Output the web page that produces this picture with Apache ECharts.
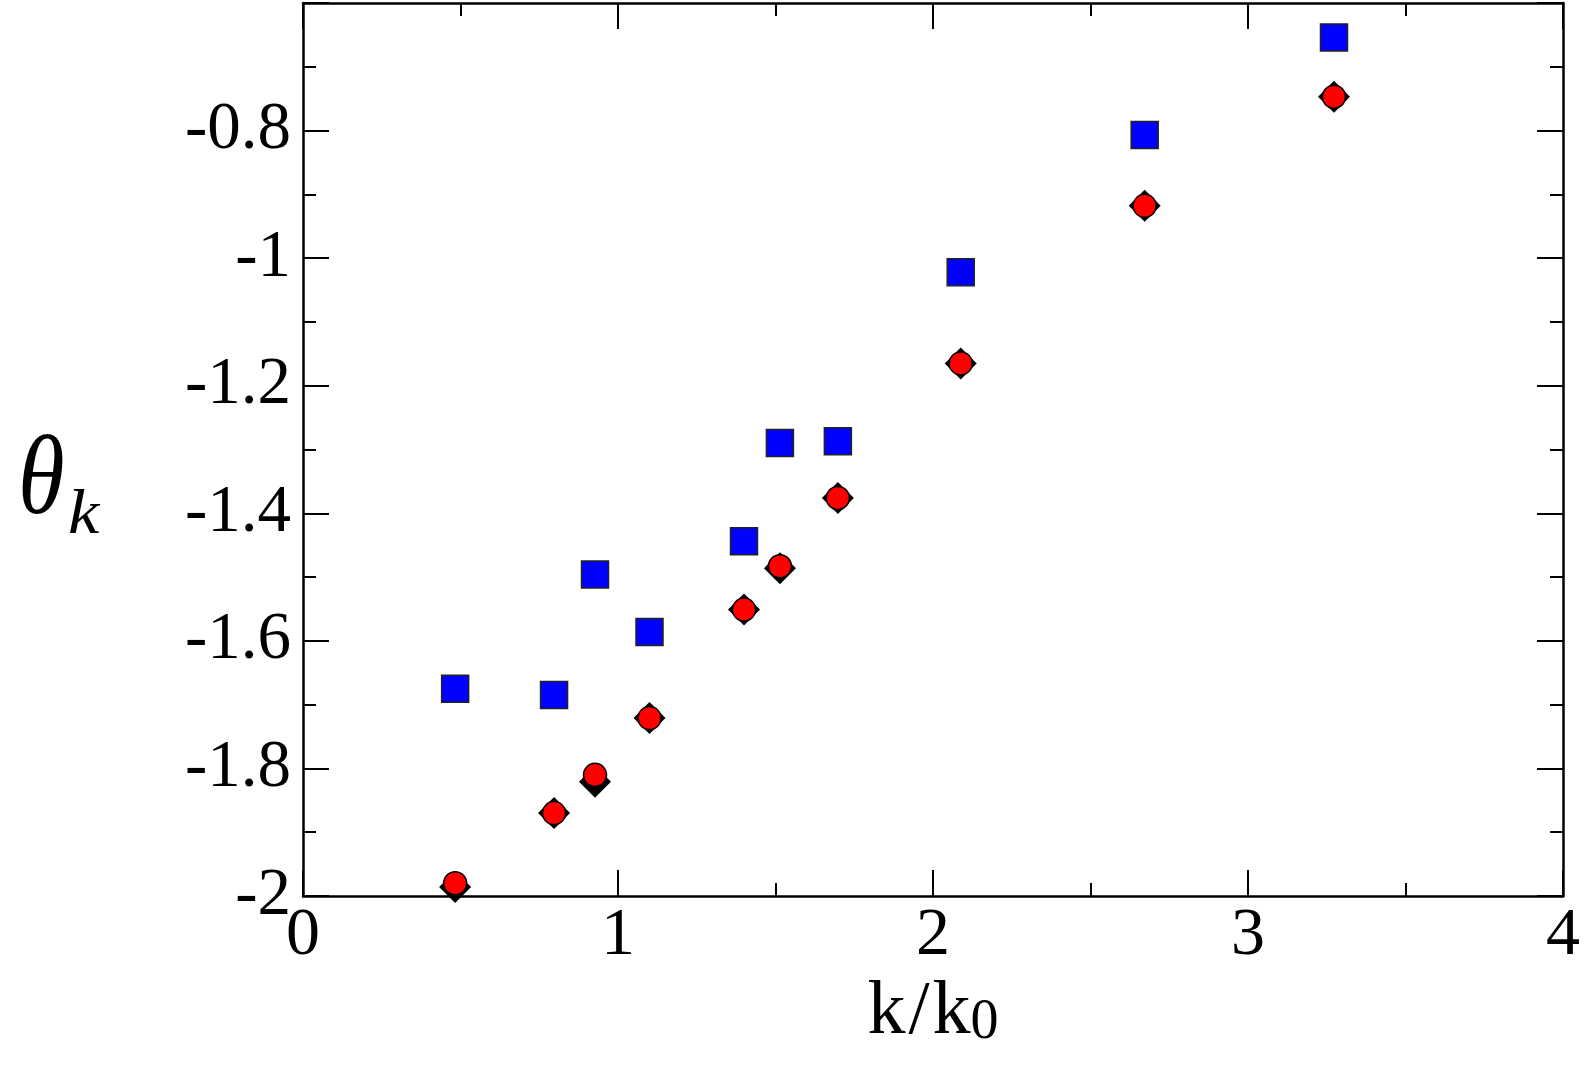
<!DOCTYPE html>
<html>
<head>
<meta charset="utf-8">
<script src="https://cdn.jsdelivr.net/npm/echarts@6/dist/echarts.min.js"></script>
<style>
  html, body { margin: 0; padding: 0; background: #fff; }
  #chart { width: 1584px; height: 1069px; }
</style>
</head>
<body>
<div id="chart"></div>
<script>
// k/k0 positions
const kRatio = [0.483, 0.797, 0.927, 1.10, 1.40, 1.514, 1.698, 2.088, 2.672, 3.273]
// blue squares
const thetaSquare = [-1.675, -1.685, -1.496, -1.586, -1.444, -1.290, -1.287, -1.022, -0.807, -0.654]
// black diamonds (mostly hidden under the circles)
const thetaDiamond = [-1.986, -1.870, -1.821, -1.721, -1.551, -1.486, -1.376, -1.165, -0.918, -0.747]
// red circles
const thetaCircle = [-1.980, -1.870, -1.810, -1.721, -1.551, -1.483, -1.376, -1.165, -0.918, -0.747]

const xTicks = { min: 0, max: 4, interval: 1 }
const yTicks = { min: -2, max: -0.6, interval: 0.2 }

const serif = '"Liberation Serif", "DejaVu Serif", serif'
const pair = (ys) => kRatio.map((x, i) => [x, ys[i]])

const chart = echarts.init(document.getElementById('chart'))

const lineStyle = { color: '#000', width: 2.5 }
const tickStyle = { color: '#000', width: 2 }

function xAxis(pos, showLabels) {
  return {
    type: 'value',
    position: pos,
    ...xTicks,
    axisLine: { show: true, onZero: false, lineStyle },
    axisTick: { show: true, inside: true, length: 26, lineStyle: tickStyle },
    minorTick: { show: true, splitNumber: 2, length: 13, lineStyle: tickStyle },
    splitLine: { show: false },
    axisLabel: {
      show: showLabels,
      margin: 6,
      color: '#000',
      fontFamily: serif,
      fontSize: 68,
    },
  }
}

function yAxis(pos, showLabels) {
  return {
    type: 'value',
    position: pos,
    ...yTicks,
    axisLine: { show: true, onZero: false, lineStyle },
    axisTick: { show: true, inside: true, length: 26, lineStyle: tickStyle },
    minorTick: { show: true, splitNumber: 2, length: 13, lineStyle: tickStyle },
    splitLine: { show: false },
    axisLabel: {
      show: showLabels,
      showMaxLabel: false,
      margin: 12,
      color: '#000',
      fontFamily: serif,
      fontSize: 67,
      formatter: (v) => String(Math.round(v * 10) / 10),
    },
  }
}

const bottomAxis = xAxis('bottom', true)
bottomAxis.name = '{m|k}{sl|/}{m|k}{s|0}'
bottomAxis.nameLocation = 'middle'
bottomAxis.nameGap = 74
bottomAxis.nameTextStyle = {
  color: '#000',
  rich: {
    m: { fontFamily: serif, fontSize: 76, lineHeight: 80, color: '#000', verticalAlign: 'bottom' },
    sl: { fontFamily: serif, fontSize: 76, lineHeight: 80, color: '#000', verticalAlign: 'bottom', padding: [0, 3, 0, 3] },
    s: { fontFamily: serif, fontSize: 56, lineHeight: 50, color: '#000', verticalAlign: 'bottom' },
  },
}

const option = {
  animation: false,
  backgroundColor: '#fff',
  grid: { left: 303, right: 21, top: 3, bottom: 173, containLabel: false },
  xAxis: [bottomAxis, xAxis('top', false)],
  yAxis: [yAxis('left', true), yAxis('right', false)],
  graphic: [
    {
      type: 'text',
      left: 18,
      top: 427,
      scaleX: 0.84,
      style: { text: 'θ', font: 'italic 113px ' + serif, fill: '#000' },
    },
    {
      type: 'text',
      left: 68,
      top: 484,
      scaleX: 1.1,
      style: { text: 'k', font: 'italic 64px ' + serif, fill: '#000' },
    },
  ],
  series: [
    {
      name: 'square',
      type: 'scatter',
      data: pair(thetaSquare),
      symbol: 'rect',
      symbolSize: 27,
      itemStyle: { color: '#0000ff', borderColor: '#222', borderWidth: 1.5, opacity: 1 },
      z: 2,
    },
    {
      name: 'diamond',
      type: 'scatter',
      data: pair(thetaDiamond),
      symbol: 'diamond',
      symbolSize: 32,
      itemStyle: { color: '#000', opacity: 1 },
      z: 3,
    },
    {
      name: 'circle',
      type: 'scatter',
      data: pair(thetaCircle),
      symbol: 'circle',
      symbolSize: 23,
      itemStyle: { color: '#ff0000', borderColor: '#000', borderWidth: 1.5, opacity: 1 },
      z: 4,
    },
  ],
}

chart.setOption(option)
</script>
</body>
</html>
